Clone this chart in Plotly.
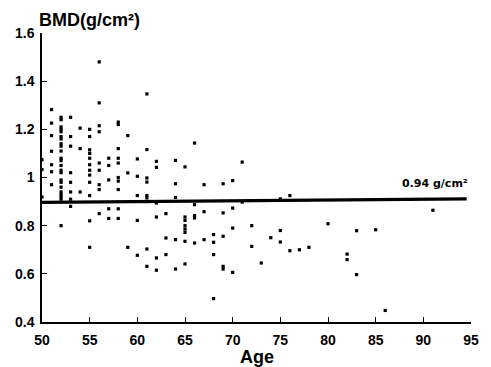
import plotly.graph_objects as go

# Data (age, BMD in g/cm2)
ages = (
    [50]*3 + [51]*7 + [52]*23 + [53]*8 + [54]*3 + [55]*12 + [56]*9 + [57]*5 + [58]*10 +
    [59]*3 + [60]*5 + [61]*9 + [62]*6 + [63]*3 + [64]*5 + [65]*8 + [66]*5 + [67]*3 +
    [68]*4 + [69]*5 + [70]*4 + [71]*2 + [72]*2 + [73] + [74] + [75]*3 + [76]*2 + [77] +
    [78] + [80] + [82]*2 + [83]*2 + [85] + [86] + [91]
)
bmd = [
    1.074, 1.033, 0.919,
    1.282, 1.226, 1.174, 1.109, 1.053, 1.024, 0.970,
    1.25, 1.24, 1.21, 1.20, 1.19, 1.17, 1.16, 1.14, 1.13, 1.11, 1.08, 1.07, 1.05, 1.03, 1.02,
    0.99, 0.98, 0.96, 0.94, 0.93, 0.92, 0.91, 0.80,
    1.25, 1.17, 1.13, 1.02, 0.98, 0.94, 0.91, 0.88,
    1.205, 1.12, 0.94,
    1.20, 1.17, 1.115, 1.10, 1.08, 1.053, 1.03, 1.01, 0.98, 0.925, 0.82, 0.71,
    1.48, 1.31, 1.215, 1.19, 1.06, 1.03, 0.97, 0.95, 0.85,
    1.08, 1.05, 0.99, 0.87, 0.83,
    1.23, 1.22, 1.12, 1.08, 1.06, 1.00, 0.985, 0.95, 0.87, 0.83,
    1.174, 1.019, 0.71,
    1.077, 1.005, 0.925, 0.822, 0.677,
    1.347, 1.116, 0.998, 0.981, 0.925, 0.915, 0.90, 0.703, 0.631,
    1.067, 1.042, 0.894, 0.836, 0.666, 0.615,
    0.85, 0.749, 0.68,
    1.071, 0.974, 0.917, 0.742, 0.62,
    1.044, 0.836, 0.822, 0.80, 0.786, 0.772, 0.735, 0.641,
    1.143, 0.887, 0.842, 0.832, 0.728,
    0.970, 0.858, 0.742,
    0.763, 0.731, 0.68, 0.497,
    0.974, 0.853, 0.756, 0.631, 0.62,
    0.987, 0.873, 0.79, 0.606,
    1.064, 0.898,
    0.80, 0.714,
    0.645,
    0.75,
    0.911, 0.78, 0.732,
    0.925, 0.696,
    0.70,
    0.71,
    0.808,
    0.682, 0.659,
    0.779, 0.597,
    0.783,
    0.448,
    0.864,
]

mean_line_x = [50, 94.55]
mean_line_y = [0.897, 0.911]
mean_label = "0.94 g/cm²"

x_ticks = [50, 55, 60, 65, 70, 75, 80, 85, 90, 95]
y_ticks = [0.4, 0.6, 0.8, 1.0, 1.2, 1.4, 1.6]
y_ticktext = ["0.4", "0.6", "0.8", "1", "1.2", "1.4", "1.6"]

FONT = "Liberation Sans, Arial, Helvetica, sans-serif"

fig = go.Figure()
fig.add_trace(go.Scatter(
    x=ages, y=bmd, mode="markers",
    marker=dict(symbol="square", size=3.2, color="black", line=dict(width=0)),
    showlegend=False, cliponaxis=False,
))
fig.add_trace(go.Scatter(
    x=mean_line_x, y=mean_line_y, mode="lines",
    line=dict(color="black", width=3.3), showlegend=False,
))

fig.update_layout(
    width=491, height=367,
    margin=dict(l=41.5, r=13, t=33, b=45),
    paper_bgcolor="white", plot_bgcolor="white",
    font=dict(family=FONT, color="black"),
    xaxis=dict(
        range=[50, 95], tickvals=x_ticks, ticks="inside", ticklen=5, tickwidth=1.3,
        tickcolor="black", showline=True, linecolor="black", linewidth=1.5,
        showgrid=False, zeroline=False,
        tickfont=dict(size=14, family=FONT, weight="bold"), ticklabelstandoff=4,
    ),
    yaxis=dict(
        range=[0.4, 1.6], tickvals=y_ticks, ticktext=y_ticktext, ticks="inside",
        ticklen=5, tickwidth=1.3, tickcolor="black", showline=True, linecolor="black",
        linewidth=1.5, showgrid=False, zeroline=False,
        tickfont=dict(size=14, family=FONT, weight="bold"), ticklabelstandoff=3,
    ),
    annotations=[
        dict(text="BMD(g/cm²)", xref="paper", yref="paper", x=-0.012, y=1.045,
             xanchor="left", yanchor="middle", showarrow=False,
             font=dict(size=18, family=FONT, weight="bold")),
        dict(text="Age", xref="paper", yref="paper", x=0.5, y=-0.121,
             xanchor="center", yanchor="middle", showarrow=False,
             font=dict(size=18, family=FONT, weight="bold")),
        dict(text=mean_label, xref="x", yref="y", x=94.9, y=0.974,
             xanchor="right", yanchor="middle", showarrow=False,
             font=dict(size=11, family="DejaVu Sans, sans-serif", weight="bold")),
    ],
)

fig.write_html(
    "out.html",
    config={"displayModeBar": False},
    post_script="document.body.style.margin='0';document.body.style.overflow='hidden';",
)
